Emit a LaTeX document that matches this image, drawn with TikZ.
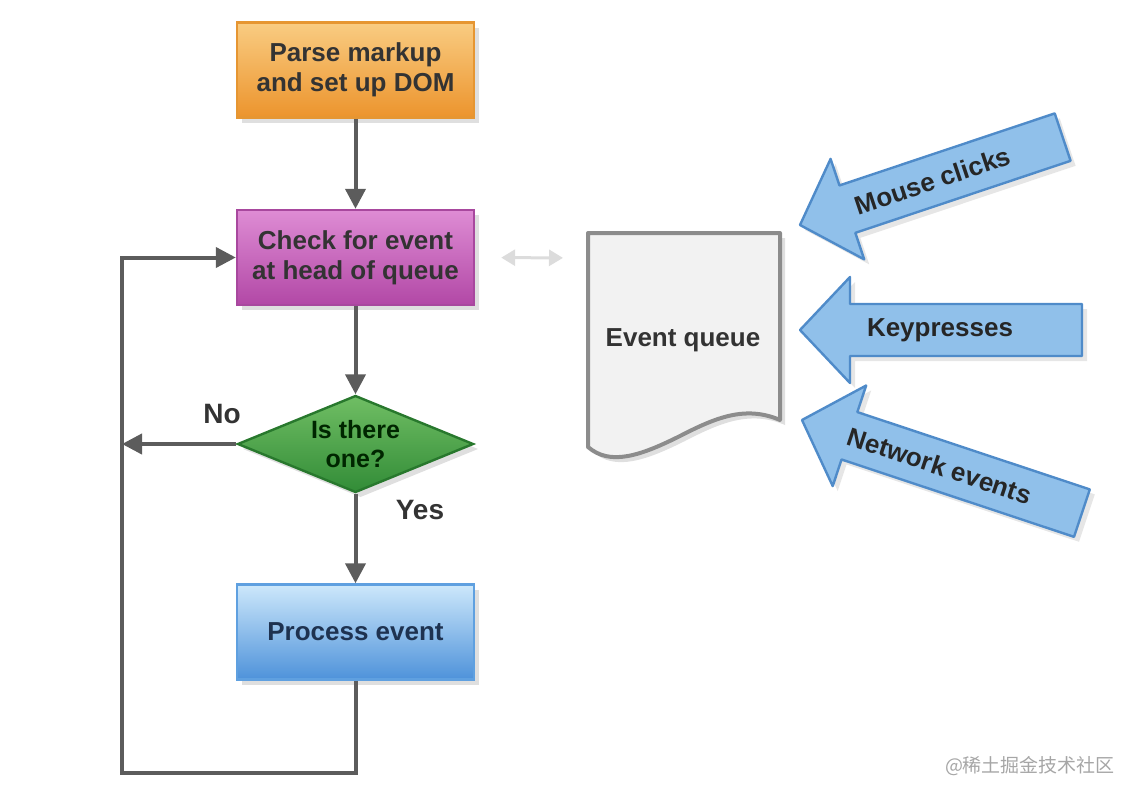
\documentclass[tikz,border=0pt]{standalone}
\usepackage{fontspec}
\setmainfont{Liberation Sans}
\newfontfamily\cjk{Noto Sans CJK SC}
\usetikzlibrary{shapes.geometric,arrows.meta,shadows}

\definecolor{flowgray}{HTML}{5C5C5C}
\definecolor{palegray}{HTML}{DCDCDC}
\definecolor{arrowblue}{HTML}{90C0EA}
\definecolor{arrowedge}{HTML}{4F8BC9}

\tikzset{
  box/.style={rectangle, minimum width=118.5pt, minimum height=47.5pt, align=center,
    line width=1.2pt, font=\bfseries\fontsize{13}{15}\selectfont,
    drop shadow={opacity=0.25, shadow xshift=2.5pt, shadow yshift=-2.5pt}},
  flow/.style={draw=flowgray, line width=2pt, -{Triangle[length=10pt,width=10pt]}},
  label/.style={font=\bfseries\fontsize{14}{16}\selectfont, text=black!80},
  feed/.style={fill=arrowblue, draw=arrowedge, line width=1.2pt, line join=round,
    drop shadow={opacity=0.2, shadow xshift=2.5pt, shadow yshift=-2.5pt}},
  feedtext/.style={font=\bfseries\fontsize{13}{15}\selectfont, text=black!85}
}

\begin{document}
\begin{tikzpicture}[x=0.5pt, y=-0.5pt]
\useasboundingbox (0,0) rectangle (1132,798);

% main loop
\node[box, draw={rgb,255:red,230;green,150;blue,50}, top color={rgb,255:red,249;green,204;blue,130},
  bottom color={rgb,255:red,236;green,148;blue,45}, text=black!80] (parse) at (355.5,70) {Parse markup\\and set up DOM};
\node[box, draw={rgb,255:red,168;green,72;blue,158}, top color={rgb,255:red,222;green,140;blue,212},
  bottom color={rgb,255:red,178;green,72;blue,166}, text=black!80] (check) at (355.5,257.5) {Check for event\\at head of queue};
\node[diamond, aspect=2.4, inner sep=0pt, minimum width=118pt, minimum height=48.5pt, align=center,
  draw={rgb,255:red,40;green,120;blue,45}, line width=1.2pt, top color={rgb,255:red,112;green,190;blue,100},
  bottom color={rgb,255:red,50;green,140;blue,55},
  font=\bfseries\fontsize{12.5}{14.5}\selectfont, text=green!15!black,
  drop shadow={opacity=0.25, shadow xshift=2.5pt, shadow yshift=-2.5pt}] (test) at (355.5,444) {Is there\\one?};
\node[box, draw={rgb,255:red,95;green,160;blue,224}, top color={rgb,255:red,205;green,232;blue,251},
  bottom color={rgb,255:red,78;green,146;blue,218}, text={rgb,255:red,30;green,50;blue,80}] (proc) at (355.5,632) {Process event};

\coordinate (cornerbl) at (122,773);

\draw[flow] (parse) -- (check);
\draw[flow] (check) -- (test);
\draw[flow] (test) -- (proc);
\draw[flow] (test.west) -- (test.west -| cornerbl);
\draw[flow] (proc.south) |- (cornerbl) |- (check.west);

\node[label] (no) at (222,414) {No};
\node[label] (yes) at (420,510) {Yes};

% event queue
\filldraw[fill=black!5, draw=black!45, line width=2pt, line join=round,
  drop shadow={opacity=0.25, shadow xshift=2.5pt, shadow yshift=-2.5pt}]
  (588,233) -- (780,233) -- (780,420) .. controls (745,405) and (715,418) .. (680,436)
  .. controls (640,456) and (610,466) .. (588,447) -- cycle;
\node[font=\bfseries\fontsize{13}{15}\selectfont, text=black!80] (queue) at (683,340) {Event queue};
\coordinate (qw) at (588,258);
\draw[palegray, line width=1.5pt, {Triangle[length=7pt,width=8pt]}-{Triangle[length=7pt,width=8pt]},
  shorten <=13pt, shorten >=12.5pt] (check.east) -- (qw);

% event sources
\begin{scope}[shift={(800,225)}, rotate=18.5]
 \filldraw[feed] (0,0) -- (50,-53) -- (50,-25) -- (277,-25) -- (277,25) -- (50,25) -- (50,53) -- cycle;
 \node[feedtext, rotate=18.5] (mouse) at (140,0) {Mouse clicks};
\end{scope}
\begin{scope}[shift={(800,330)}]
 \filldraw[feed] (0,0) -- (50,-53) -- (50,-26) -- (282,-26) -- (282,26) -- (50,26) -- (50,53) -- cycle;
 \node[feedtext] (keys) at (140,0) {Keypresses};
\end{scope}
\begin{scope}[shift={(802,420)}, rotate=-18.4]
 \filldraw[feed] (0,0) -- (50,-53) -- (50,-25) -- (295,-25) -- (295,25) -- (50,25) -- (50,53) -- cycle;
 \node[feedtext, rotate=-18.4] (net) at (145,0) {Network events};
\end{scope}

\node[text=black!35, font=\fontsize{9.5}{11}\selectfont] (mark) at (1030,766) {\cjk @稀土掘金技术社区};
\end{tikzpicture}
\end{document}
